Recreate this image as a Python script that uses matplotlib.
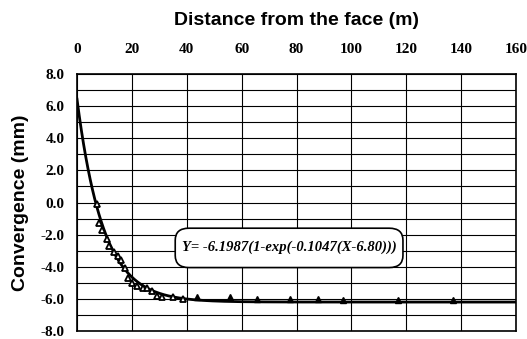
import matplotlib.pyplot as plt
import numpy as np
from matplotlib.patches import FancyBboxPatch

# measured convergence vs distance from the face
dist = [7.2, 8.2, 9.2, 10.8, 11.8, 13.6, 15.0, 16.2, 17.4, 18.6, 20.0, 21.8,
        24.2, 25.6, 27.2, 29.0, 31.0, 35.0, 38.7, 43.6, 55.8, 65.5, 77.6,
        87.9, 97.1, 117.1, 137.1]
conv = [-0.1, -1.3, -1.7, -2.3, -2.7, -3.1, -3.3, -3.6, -4.1, -4.7, -5.0, -5.2,
        -5.3, -5.3, -5.5, -5.8, -5.9, -5.9, -6.0, -5.9, -5.9, -6.0, -6.0,
        -6.0, -6.1, -6.1, -6.1]

# fitted curve parameters: Y = A(1-exp(-B(X-X0)))
A, B, X0 = -6.1987, 0.1047, 6.80

xticks = [0, 20, 40, 60, 80, 100, 120, 140, 160]
yticks = [8, 6, 4, 2, 0, -2, -4, -6, -8]

fig = plt.figure(figsize=(5.27, 3.39), dpi=100)
ax = fig.add_axes([77 / 527, 1 - 331 / 339, 439 / 527, 257 / 339])

xf = np.linspace(0, 160, 400)
yf = A * (1 - np.exp(-B * (xf - X0)))
ax.plot(xf, yf, color='black', linewidth=2.0, zorder=3)

d = np.array(dist)
c = np.array(conv)
near = d < 40
ax.plot(d[near], c[near], linestyle='none', marker='^', markersize=5,
        markerfacecolor='white', markeredgecolor='black', markeredgewidth=1.3,
        zorder=4)
ax.plot(d[~near], c[~near], linestyle='none', marker='^', markersize=5,
        markerfacecolor='black', markeredgecolor='black', zorder=4)

ax.set_xlim(0, 160)
ax.set_ylim(-8, 8)
ax.xaxis.tick_top()
ax.set_xticks(xticks)
ax.set_yticks(yticks)
ax.set_yticks(np.arange(-7, 8, 2), minor=True)
ax.set_yticklabels([f'{v:.1f}' for v in yticks])
ax.tick_params(axis='both', which='both', length=0)
ax.tick_params(axis='x', pad=13)
ax.tick_params(axis='y', pad=9)
for lab in ax.get_xticklabels() + ax.get_yticklabels():
    lab.set_family('Liberation Serif')
    lab.set_fontweight('bold')
    lab.set_fontsize(11)

ax.grid(True, which='both', color='black', linewidth=0.8)
for s in ax.spines.values():
    s.set_linewidth(1.2)

ax.set_title('Distance from the face (m)', fontsize=14, fontweight='bold',
             family='Liberation Sans', pad=35)
ax.set_ylabel('Convergence (mm)', fontsize=14, fontweight='bold',
              family='Liberation Sans', labelpad=8)

# equation box
box = FancyBboxPatch((35.8, -4.05), 83, 2.45, boxstyle='round,pad=0,rounding_size=5',
                     mutation_aspect=0.15, facecolor='white', edgecolor='black',
                     linewidth=1.2, zorder=5)
ax.add_patch(box)
ax.text(77.3, -2.8, 'Y= -6.1987(1-exp(-0.1047(X-6.80)))', ha='center',
        va='center', family='Liberation Serif', style='italic',
        fontweight='bold', fontsize=10.5, zorder=6)

fig.savefig('out.png', dpi=100)
